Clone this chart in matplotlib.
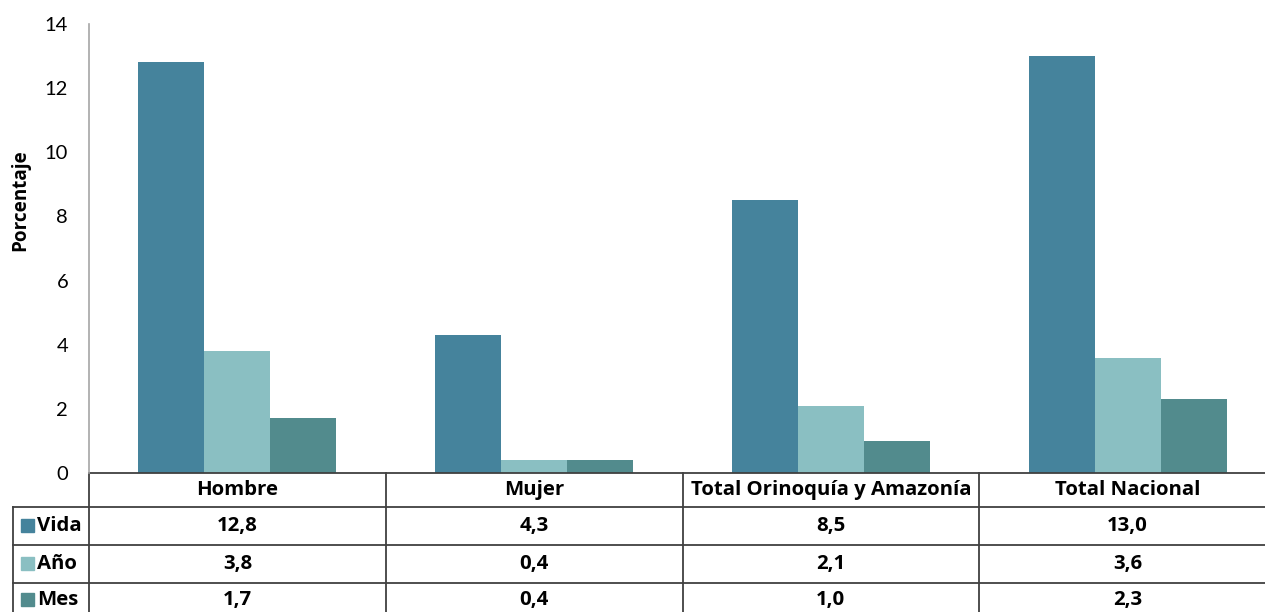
import matplotlib.pyplot as plt
import matplotlib.transforms as mtransforms
from matplotlib.patches import Rectangle

plt.rcParams['font.family'] = ['Lato', 'DejaVu Sans']
negrita = ['Open Sans', 'DejaVu Sans']

# Datos
categorias = ['Hombre', 'Mujer', 'Total Orinoquía y Amazonía', 'Total Nacional']
series = ['Vida', 'Año', 'Mes']
vida = [12.8, 4.3, 8.5, 13.0]
anio = [3.8, 0.4, 2.1, 3.6]
mes = [1.7, 0.4, 1.0, 2.3]
valores = [vida, anio, mes]
etiquetas = [['12,8', '4,3', '8,5', '13,0'],
             ['3,8', '0,4', '2,1', '3,6'],
             ['1,7', '0,4', '1,0', '2,3']]
colores = ['#45839c', '#8abfc2', '#528b8d']

W, H = 1265, 612
fig = plt.figure(figsize=(W / 100, H / 100), dpi=100)
ax = fig.add_axes([89 / W, 1 - 473 / H, (1276 - 89) / W, 449 / H])

ancho = 2 / 9
x = range(len(categorias))
for i, (serie, vals, col) in enumerate(zip(series, valores, colores)):
    ax.bar([xi + (i - 1) * ancho for xi in x], vals, width=ancho, color=col, label=serie)

ax.set_xlim(-0.5, 3.5)
ax.set_ylim(0, 14)
ax.set_yticks(range(0, 15, 2))
ax.tick_params(axis='y', length=0, pad=15, labelsize=14.5)
ax.set_xticks([])
for s in ['top', 'right', 'bottom']:
    ax.spines[s].set_visible(False)
ax.spines['left'].set_color('#a6a6a6')
ax.spines['left'].set_linewidth(1.2)

fig.text(20 / W, 1 - 200 / H, 'Porcentaje', rotation=90, ha='center', va='center',
         fontsize=13.6, fontweight='bold', family=negrita)

# Tabla de datos debajo del gráfico
tr = mtransforms.blended_transform_factory(ax.transData, fig.transFigure)
lc = '#404040'
lw = 1.3
fs = 14.7


def fy(py):
    return 1 - py / H


# líneas horizontales
ax.plot([-0.5, 3.5], [fy(473), fy(473)], transform=tr, color=lc, lw=lw, clip_on=False)
for py in [507, 545, 583]:
    fig.add_artist(plt.Line2D([13 / W, 1.01], [fy(py), fy(py)], color=lc, lw=lw))
# líneas verticales
for b in [-0.5, 0.5, 1.5, 2.5, 3.5]:
    ax.plot([b, b], [fy(473), 0], transform=tr, color=lc, lw=lw, clip_on=False)
fig.add_artist(plt.Line2D([13 / W, 13 / W], [fy(507), 0], color=lc, lw=lw))

for xi, cat in zip(x, categorias):
    ax.text(xi, fy(490), cat, transform=tr, ha='center', va='center',
            fontsize=fs, fontweight='bold', family=negrita)

filas_y = [526, 564, 600]
for serie, col, fila, py in zip(series, colores, etiquetas, filas_y):
    fig.add_artist(Rectangle((21 / W, fy(py + 6)), 13 / W, 13 / H, color=col,
                             transform=fig.transFigure))
    fig.text(37 / W, fy(py), serie, ha='left', va='center', fontsize=fs,
             fontweight='bold', family=negrita)
    for xi, t in zip(x, fila):
        ax.text(xi, fy(py), t, transform=tr, ha='center', va='center',
                fontsize=fs, fontweight='bold', family=negrita)

fig.savefig('out.png', dpi=100)
